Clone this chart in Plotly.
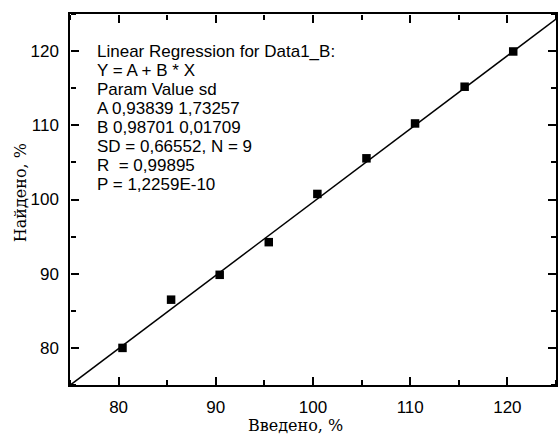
import plotly.graph_objects as go

introduced = [80.4, 85.4, 90.4, 95.45, 100.45, 105.5, 110.5, 115.6, 120.6]
found = [80.0, 86.5, 89.85, 94.25, 100.75, 105.55, 110.25, 115.2, 119.95]
coef_A = 0.93839
coef_B = 0.98701
line_x = [75, 125]
stats_lines = [
    "Linear Regression for Data1_B:",
    "Y = A + B * X",
    "Param Value sd",
    "A 0,93839 1,73257",
    "B 0,98701 0,01709",
    "SD = 0,66552, N = 9",
    "R  = 0,99895",
    "P = 1,2259E-10",
]

fig = go.Figure()
fig.add_trace(go.Scatter(
    x=line_x, y=[coef_A + coef_B * v for v in line_x], mode="lines",
    line=dict(color="black", width=1.5), showlegend=False))
fig.add_trace(go.Scatter(
    x=introduced, y=found, mode="markers",
    marker=dict(symbol="square", size=8.5, color="black"), showlegend=False))
# invisible helpers so the tick-only overlay axes are created
for xa, ya in (("x2", "y2"), ("x3", "y3")):
    fig.add_trace(go.Scatter(x=introduced, y=found, xaxis=xa, yaxis=ya, mode="markers",
                             marker=dict(opacity=0), showlegend=False, hoverinfo="skip"))

RANGE = [75, 125]
main = dict(range=RANGE, dtick=10, ticks="", showline=True, linecolor="black", linewidth=1.5,
            mirror=True, showgrid=False, zeroline=False,
            tickfont=dict(family="Liberation Sans", size=17, color="black"), ticklabelstandoff=6)
tick_only = dict(range=RANGE, dtick=10, ticks="outside", ticklen=8, tickwidth=1.5,
                 tickcolor="black", showticklabels=False, showline=False, showgrid=False,
                 zeroline=False, anchor="free",
                 minor=dict(dtick=5, ticks="outside", ticklen=5, tickwidth=1.5, tickcolor="black"))

fig.update_layout(
    xaxis=main, yaxis=main,
    xaxis2=dict(overlaying="x", side="top", position=0, **tick_only),
    xaxis3=dict(overlaying="x", side="bottom", position=1, **tick_only),
    yaxis2=dict(overlaying="y", side="right", position=0, **tick_only),
    yaxis3=dict(overlaying="y", side="left", position=1, **tick_only),
)

H = 439
pw, ph = 560 - 72, H - 68
top_center_px = 51.5
for i, s in enumerate(stats_lines):
    ypx = top_center_px + 19.05 * i
    fig.add_annotation(
        x=(95.5 - 70) / pw, y=(H - 54 - ypx) / ph, xref="paper", yref="paper",
        xanchor="left", yanchor="middle", text=s, showarrow=False, align="left",
        font=dict(family="Liberation Sans", size=17, color="black"))

fig.add_annotation(
    x=(296 - 70) / pw, y=(H - 54 - 425) / ph, xref="paper", yref="paper",
    xanchor="center", yanchor="middle", text="Введено, %", showarrow=False,
    font=dict(family="DejaVu Serif", size=16, color="black"))
fig.add_annotation(
    x=(20 - 70) / pw, y=(H - 54 - 193) / ph, xref="paper", yref="paper",
    xanchor="center", yanchor="middle", text="Найдено, %", showarrow=False, textangle=-90,
    font=dict(family="DejaVu Serif", size=16, color="black"))

fig.update_layout(
    width=560, height=H, margin=dict(l=70, r=2, t=14, b=54),
    plot_bgcolor="white", paper_bgcolor="white",
)
fig.write_html("out.html")
